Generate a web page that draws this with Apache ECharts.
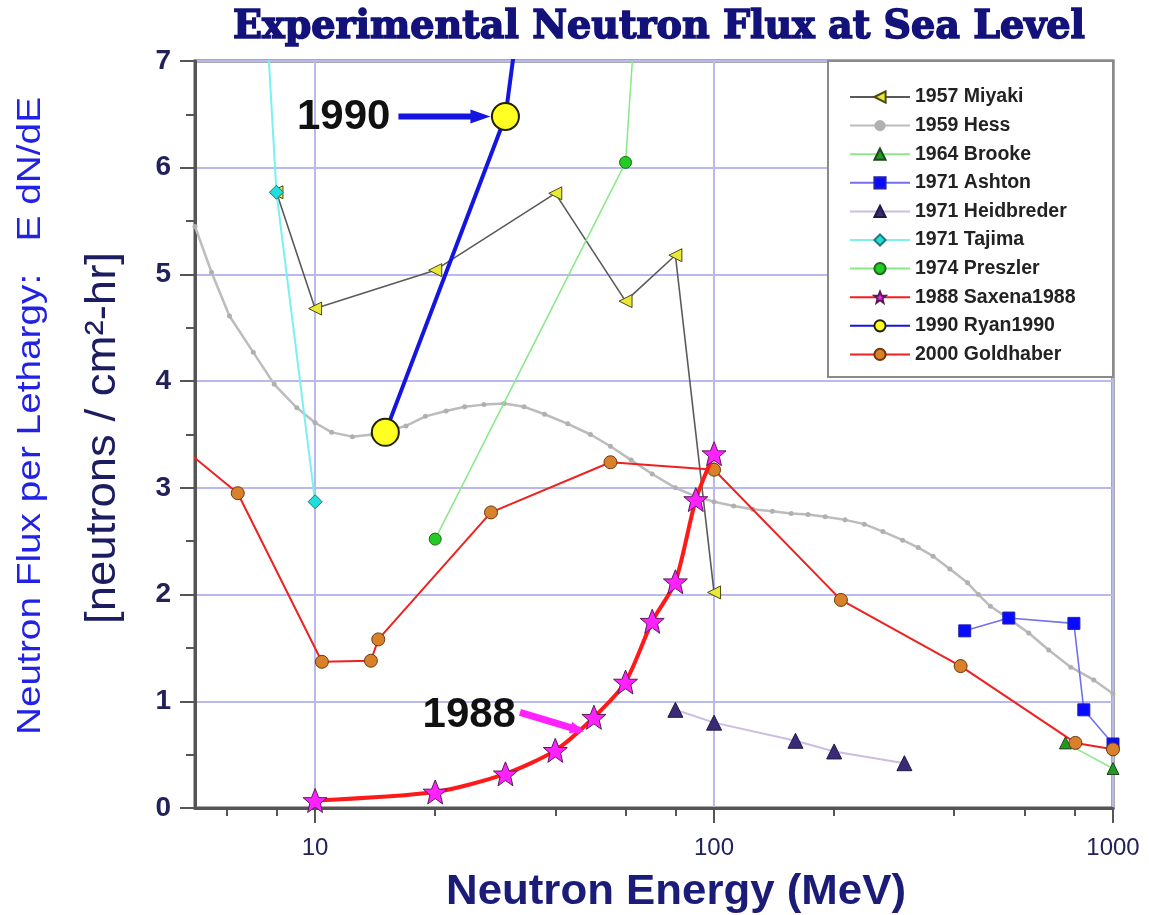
<!DOCTYPE html>
<html><head><meta charset="utf-8">
<script src="https://cdn.jsdelivr.net/npm/echarts@6/dist/echarts.min.js"></script>
<style>html,body{margin:0;padding:0;background:#fff}#c{width:1149px;height:915px}</style>
</head><body><div id="c"></div>
<script>
// ---- data (energy MeV, flux) ----
const miyaki = [[8,5.77],[10,4.68],[20,5.04],[40,5.76],[60,4.75],[80,5.18],[100,2.02]];
const hess = [[5,5.45],[5.5,5.02],[6.1,4.61],[7,4.27],[7.9,3.97],[9,3.75],[10,3.61],[11,3.52],[12.4,3.48],[13.9,3.5],[15.3,3.54],[16.9,3.58],[18.9,3.67],[21.3,3.72],[23.7,3.76],[26.5,3.78],[29.8,3.79],[33.4,3.76],[37.6,3.69],[43,3.6],[49,3.5],[55,3.39],[62,3.26],[70,3.13],[80,3.0],[90,2.92],[100,2.87],[112,2.83],[125,2.8],[140,2.78],[156,2.76],[172,2.75],[190,2.73],[213,2.7],[238,2.66],[265,2.59],[297,2.51],[325,2.44],[354,2.36],[390,2.24],[432,2.11],[460,2.0],[493,1.89],[550,1.77],[615,1.64],[690,1.48],[784,1.32],[895,1.2],[1000,1.07]];
const brooke = [[760,0.61],[1000,0.37]];
const ashton = [[425,1.66],[548,1.78],[798,1.73],[845,0.92],[1000,0.6]];
const heidbreder = [[80,0.92],[100,0.8],[160,0.63],[200,0.53],[300,0.42]];
const tajima = [[7,9.56],[8,5.77],[10,2.87]];
const preszler = [[20,2.52],[60,6.05],[80,13.0]];
const saxena = [[10,0.07],[20,0.15],[30,0.32],[40,0.54],[50,0.85],[60,1.18],[70,1.75],[80,2.12],[90,2.89],[100,3.32]];
const ryan = [[15,3.52],[30,6.48],[40,10.0]];
const goldhaber = [[4.5,3.42],[6.4,2.95],[10.4,1.37],[13.8,1.38],[14.4,1.58],[27.6,2.77],[55,3.24],[100,3.17],[208,1.95],[415,1.33],[805,0.61],[1000,0.55]];

const seriesNames = ['1957 Miyaki','1959 Hess','1964 Brooke','1971 Ashton','1971 Heidbreder','1971 Tajima','1974 Preszler','1988 Saxena1988','1990 Ryan1990','2000 Goldhaber'];
const xMajorTicks = [10,100,1000];
const xMinorTicks = [6,8,20,40,60,80,200,400,600,800];

const chart = echarts.init(document.getElementById('c'), null, {renderer:'canvas'});
const SANS = 'Liberation Sans';
const NAVY = '#1b1b78';

function mk(name, data, o) {
  return Object.assign({
    name, type:'line', data, clip:true, z:3,
    lineStyle:{width:o.lw, color:o.lc},
    itemStyle:{color:o.fill, borderColor:o.bc||'#333', borderWidth:o.bw==null?1:o.bw},
    symbol:o.sym, symbolSize:o.ss, symbolRotate:o.rot||0, showSymbol:true,
    emphasis:{disabled:true}, animation:false
  }, o.extra||{});
}

const series = [
  mk(seriesNames[1], hess, {lw:2.5, lc:'#bcbcbc', fill:'#b0b0b0', bc:'#b0b0b0', bw:0, sym:'circle', ss:5, extra:{z:2}}),
  mk(seriesNames[0], miyaki, {lw:1.6, lc:'#5a5a5a', fill:'#e8e838', bc:'#4a4a10', sym:'triangle', ss:13, rot:90}),
  mk(seriesNames[2], brooke, {lw:1.5, lc:'#8fe88f', fill:'#1f9a1f', bc:'#224422', sym:'triangle', ss:12}),
  mk(seriesNames[3], ashton, {lw:1.6, lc:'#7070f0', fill:'#0a0aff', bc:'#2222aa', sym:'rect', ss:12}),
  mk(seriesNames[4], heidbreder, {lw:2, lc:'#cdbde0', fill:'#3a2a78', bc:'#221a44', sym:'triangle', ss:15}),
  mk(seriesNames[5], tajima, {lw:2, lc:'#7af0f0', fill:'#22dddd', bc:'#227777', sym:'diamond', ss:14, extra:{z:4}}),
  mk(seriesNames[6], preszler, {lw:1.5, lc:'#88e888', fill:'#22cc22', bc:'#226622', sym:'circle', ss:12}),
  mk(seriesNames[9], goldhaber, {lw:2, lc:'#ee2020', fill:'#d8802a', bc:'#6a3a10', sym:'circle', ss:13}),
  mk(seriesNames[7], saxena, {lw:4, lc:'#ff1a1a', fill:'#ff22ff', bc:'#5a1a5a', sym:'path://M0,-10 L2.9,-3.1 L9.5,-3.1 L4.2,1.2 L5.9,8.1 L0,4 L-5.9,8.1 L-4.2,1.2 L-9.5,-3.1 L-2.9,-3.1 Z', ss:24, extra:{smooth:0.25, z:4}}),
  mk(seriesNames[8], ryan, {lw:4, lc:'#1515e0', fill:'#ffff22', bc:'#222200', bw:2, sym:'circle', ss:27, extra:{z:5}})
];

const option = {
  animation:false,
  backgroundColor:'#ffffff',
  grid:{left:195, right:36, top:61, bottom:107, show:true, borderColor:'#555', borderWidth:3, backgroundColor:'transparent', containLabel:false},
  xAxis:[{
    type:'log', logBase:10, min:5, max:1000,
    axisLine:{show:true, lineStyle:{color:'#555', width:3}},
    axisTick:{show:true, inside:false, length:15, lineStyle:{color:'#555', width:2}, customValues:xMajorTicks},
    axisLabel:{show:true, customValues:xMajorTicks, margin:28, fontFamily:SANS, fontSize:24, color:'#22225a',
      formatter:v=> (xMajorTicks.indexOf(Math.round(v))>=0 ? String(Math.round(v)) : '')},
    splitLine:{show:true, lineStyle:{color:'#b9b9ee', width:2}},
    minorTick:{show:false}
  },{
    type:'log', logBase:10, min:5, max:1000, position:'bottom',
    axisLine:{show:false},
    axisTick:{show:true, inside:false, length:8, lineStyle:{color:'#555', width:2}, customValues:xMinorTicks},
    axisLabel:{show:false},
    splitLine:{show:false}
  }],
  yAxis:{
    type:'value', min:0, max:7, interval:1,
    axisLine:{show:true, lineStyle:{color:'#555', width:3}},
    axisTick:{show:true, inside:false, length:15, lineStyle:{color:'#555', width:2}},
    minorTick:{show:true, splitNumber:2, length:9, lineStyle:{color:'#555', width:2}},
    axisLabel:{margin:24, fontFamily:SANS, fontSize:28, fontWeight:'bold', color:'#22225a',
      formatter:v=>String(v)},
    splitLine:{show:true, lineStyle:{color:'#b9b9ee', width:2}}
  },
  legend:{
    show:true, orient:'vertical', left:844, top:82, z:20,
    itemWidth:60, itemHeight:14, itemGap:8.6, selectedMode:false,
    data:seriesNames,
    textStyle:{fontFamily:SANS, fontSize:19.5, fontWeight:'bold', color:'#222', lineHeight:20}
  },
  series
};
chart.setOption(option);

// ---- annotations ----
function measure(text, font){ const c=document.createElement('canvas').getContext('2d'); c.font=font; return c.measureText(text).width; }
const titleText = 'Experimental Neutron Flux at Sea Level';
const titleFont = 'bold 40px "DejaVu Serif"';
const titleScale = 852 / measure(titleText, titleFont);
const xnText = 'Neutron Energy (MeV)';
const xnFont = 'bold 43px "Liberation Sans"';
const xnScale = 460 / measure(xnText, xnFont);
const y1Text = 'Neutron Flux per Lethargy:   E dN/dE';
const y1Font = '34px "Liberation Sans"';
const y1Scale = 638 / measure(y1Text, y1Font);
const y2Text = '[neutrons / cm²-hr]';
const y2Font = '43px "Liberation Sans"';
const y2Scale = 372 / measure(y2Text, y2Font);

const pR = chart.convertToPixel({xAxisIndex:0, yAxisIndex:0}, ryan[1]);
const pS = chart.convertToPixel({xAxisIndex:0, yAxisIndex:0}, saxena[4]);
const tip1 = [pR[0]-15, pR[1]];
const tail1 = [tip1[0]-92, tip1[1]];
const tip2 = [pS[0]-14, pS[1]+13];
const tail2 = [tip2[0]-60, tip2[1]-18];
function arrowHead(tip, tail, len, half){
  const dx=tip[0]-tail[0], dy=tip[1]-tail[1], L=Math.hypot(dx,dy), ux=dx/L, uy=dy/L;
  const bx=tip[0]-ux*len, by=tip[1]-uy*len;
  return [[tip[0],tip[1]],[bx-uy*half,by+ux*half],[bx+uy*half,by-ux*half]];
}

chart.setOption({graphic:[
  {type:'rect', z:15, shape:{x:828, y:61, width:285, height:316}, style:{fill:'#fff', stroke:'#8a8a8a', lineWidth:2}},
  {type:'text', z:30, x:659, y:28, scaleX:titleScale, scaleY:1,
    style:{text:titleText, font:titleFont, fill:'#12127a', stroke:'#12127a', lineWidth:1.6, align:'center', verticalAlign:'middle'}},
  {type:'text', z:30, x:676, y:892, scaleX:xnScale, scaleY:1,
    style:{text:xnText, font:xnFont, fill:NAVY, align:'center', verticalAlign:'middle'}},
  {type:'text', z:30, x:31, y:416, rotation:Math.PI/2, scaleX:y1Scale, scaleY:1,
    style:{text:y1Text, font:y1Font, fill:'#2222e6', align:'center', verticalAlign:'middle'}},
  {type:'text', z:30, x:103, y:438, rotation:Math.PI/2, scaleX:y2Scale, scaleY:1,
    style:{text:y2Text, font:y2Font, fill:'#1c1c60', align:'center', verticalAlign:'middle'}},
  {type:'line', z:30, shape:{x1:tail1[0], y1:tail1[1], x2:tip1[0]-12, y2:tip1[1]}, style:{stroke:'#1515e0', lineWidth:6}},
  {type:'polygon', z:30, shape:{points:arrowHead(tip1, tail1, 20, 7)}, style:{fill:'#1515e0'}},
  {type:'text', z:30, x:tail1[0]-8, y:tail1[1]+1,
    style:{text:'1990', font:'bold 42px "Liberation Sans"', fill:'#111', align:'right', verticalAlign:'middle'}},
  {type:'line', z:30, shape:{x1:tail2[0], y1:tail2[1], x2:tip2[0], y2:tip2[1]}, style:{stroke:'#ff22ff', lineWidth:7}},
  {type:'polygon', z:30, shape:{points:arrowHead([tip2[0]+4,tip2[1]+1.2], tail2, 14, 6)}, style:{fill:'#ff22ff'}},
  {type:'text', z:30, x:tail2[0]-4, y:tail2[1]+3,
    style:{text:'1988', font:'bold 42px "Liberation Sans"', fill:'#111', align:'right', verticalAlign:'middle'}}
]});
</script>
</body></html>
